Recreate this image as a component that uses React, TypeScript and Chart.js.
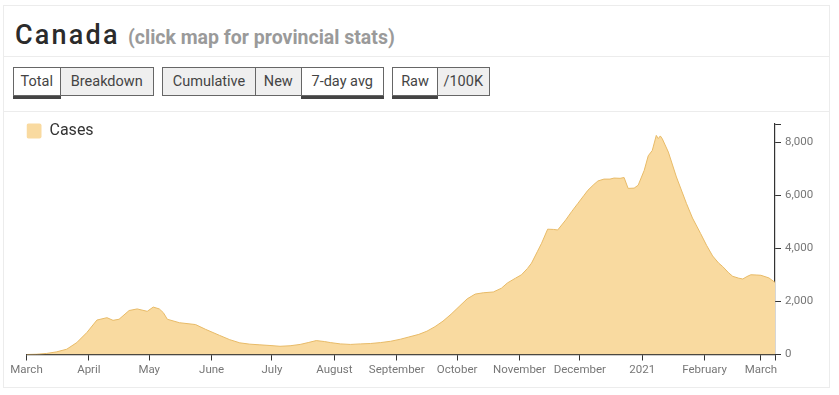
import React, { useEffect, useRef } from "react";
import { Chart, registerables } from "chart.js";

Chart.register(...registerables);

// ---- data ----
const dates = [
  "2020-03-01", "2020-03-06", "2020-03-11", "2020-03-16", "2020-03-21", "2020-03-26", "2020-03-31",
  "2020-04-05", "2020-04-10", "2020-04-13", "2020-04-16", "2020-04-21", "2020-04-25", "2020-04-30",
  "2020-05-03", "2020-05-06", "2020-05-08", "2020-05-10", "2020-05-16", "2020-05-24", "2020-05-29",
  "2020-06-05", "2020-06-10", "2020-06-15", "2020-06-20", "2020-06-25", "2020-06-30",
  "2020-07-05", "2020-07-10", "2020-07-15", "2020-07-19", "2020-07-23", "2020-07-27", "2020-07-30",
  "2020-08-04", "2020-08-09", "2020-08-14", "2020-08-19", "2020-08-24", "2020-08-29",
  "2020-09-03", "2020-09-07", "2020-09-12", "2020-09-16", "2020-09-20", "2020-09-24", "2020-09-28",
  "2020-10-02", "2020-10-06", "2020-10-10", "2020-10-14", "2020-10-19", "2020-10-23", "2020-10-26", "2020-10-30",
  "2020-11-02", "2020-11-05", "2020-11-07", "2020-11-10", "2020-11-12", "2020-11-15", "2020-11-18", "2020-11-20",
  "2020-11-24", "2020-11-27", "2020-11-30",
  "2020-12-03", "2020-12-05", "2020-12-08", "2020-12-10", "2020-12-13", "2020-12-16", "2020-12-18",
  "2020-12-21", "2020-12-23", "2020-12-25", "2020-12-28", "2020-12-30",
  "2021-01-02", "2021-01-04", "2021-01-06", "2021-01-08", "2021-01-09", "2021-01-10", "2021-01-11",
  "2021-01-14", "2021-01-18", "2021-01-23", "2021-01-26", "2021-01-30",
  "2021-02-02", "2021-02-05", "2021-02-08", "2021-02-10", "2021-02-13", "2021-02-15", "2021-02-18",
  "2021-02-20", "2021-02-22", "2021-02-24", "2021-02-27",
  "2021-03-01", "2021-03-05", "2021-03-08",
];

const cases = [
  0, 10, 40, 100, 200, 450, 830,
  1300, 1390, 1290, 1330, 1660, 1720, 1630,
  1790, 1720, 1580, 1330, 1200, 1130, 950,
  720, 560, 440, 390, 365, 340,
  310, 330, 380, 450, 525, 490, 450,
  400, 380, 400, 415, 450, 500,
  580, 660, 760, 880, 1050, 1260, 1520,
  1810, 2100, 2280, 2330, 2360, 2500, 2700, 2880,
  3010, 3250, 3450, 3900, 4200, 4730, 4720, 4700,
  5080, 5400, 5700,
  6000, 6200, 6420, 6550, 6620, 6620, 6660,
  6650, 6680, 6270, 6280, 6390,
  6950, 7500, 7700, 8270, 8150, 8250, 8140,
  7640, 6700, 5700, 5150, 4570,
  4120, 3720, 3450, 3320, 3080, 2950, 2880,
  2850, 2940, 3010, 3000,
  2990, 2890, 2720,
];

const startDate = "2020-03-01";
const endDate = "2021-03-08";

const monthTickDates = [
  "2020-03-01", "2020-04-01", "2020-05-01", "2020-06-01", "2020-07-01", "2020-08-01",
  "2020-09-01", "2020-10-01", "2020-11-01", "2020-12-01", "2021-01-01", "2021-02-01", "2021-03-01",
];
const monthTickLabels = [
  "March", "April", "May", "June", "July", "August", "September",
  "October", "November", "December", "2021", "February", "March",
];

const yTicks = [0, 2000, 4000, 6000, 8000];
const yMax = 8700;

const seriesLabel = "Cases";

// ---- helpers ----
function dayIndex(s: string): number {
  const [y, m, d] = s.split("-").map(Number);
  const [sy, sm, sd] = startDate.split("-").map(Number);
  return Math.round((Date.UTC(y, m - 1, d) - Date.UTC(sy, sm - 1, sd)) / 86400000);
}

const FONT = "Roboto, 'Noto Sans', sans-serif";

type Btn = { label: string; left: number; width: number; active: boolean };
const buttons: Btn[] = [
  { label: "Total", left: 12.5, width: 48.5, active: true },
  { label: "Breakdown", left: 60, width: 93.5, active: false },
  { label: "Cumulative", left: 162, width: 94, active: false },
  { label: "New", left: 255, width: 46.5, active: false },
  { label: "7-day avg", left: 300.5, width: 83.5, active: true },
  { label: "Raw", left: 392, width: 46, active: true },
  { label: "/100K", left: 437, width: 52.5, active: false },
];

const CW = 827;
const CH = 276;

function CasesChart() {
  const ref = useRef<HTMLCanvasElement | null>(null);
  useEffect(() => {
    if (!ref.current) return;
    const endDay = dayIndex(endDate);
    const points = dates.map((d, i) => ({ x: dayIndex(d), y: cases[i] }));
    const xTickVals = monthTickDates.map(dayIndex);
    const chart = new Chart(ref.current, {
      type: "line",
      data: {
        datasets: [
          {
            label: seriesLabel,
            data: points,
            borderColor: "#e8bb68",
            backgroundColor: "#f9daa0",
            borderWidth: 1,
            fill: "origin",
            pointRadius: 0,
            tension: 0,
          },
        ],
      },
      options: {
        animation: false,
        responsive: false,
        maintainAspectRatio: false,
        layout: { padding: { top: 12, left: 23.5, right: 0, bottom: 0 } },
        plugins: {
          tooltip: { enabled: false },
          legend: {
            position: "chartArea",
            align: "start",
            title: {
              display: true,
              text: "",
              font: { size: 1, lineHeight: 1 },
              padding: { top: 10, bottom: 0 },
            },
            labels: {
              boxWidth: 15,
              boxHeight: 15,
              padding: 0,
              color: "#333",
              font: { family: FONT, size: 16, lineHeight: 1 },
              useBorderRadius: true,
              borderRadius: 2,
              generateLabels: (c: any) =>
                Chart.defaults.plugins.legend.labels.generateLabels(c).map((l: any) => ({
                  ...l,
                  lineWidth: 0,
                  strokeStyle: "rgba(0,0,0,0)",
                })),
            },
          },
        },
        scales: {
          x: {
            type: "linear",
            min: 0,
            max: endDay,
            afterBuildTicks: (scale: any) => {
              scale.ticks = [...xTickVals, endDay].map((v) => ({ value: v }));
            },
            afterFit: (scale: any) => {
              scale.height = CH - 242.5;
            },
            ticks: {
              autoSkip: false,
              maxRotation: 0,
              minRotation: 0,
              padding: 3,
              color: "#777",
              font: { family: FONT, size: 11.5 },
              callback: (v: any) => {
                const i = xTickVals.indexOf(Number(v));
                return i >= 0 ? monthTickLabels[i] : "";
              },
            },
            grid: {
              drawOnChartArea: false,
              drawTicks: true,
              tickLength: 6,
              color: "#333",
              lineWidth: 1,
            },
            border: { display: true, color: "#333", width: 1.2 },
          },
          y: {
            type: "linear",
            position: "right",
            min: 0,
            max: yMax,
            afterBuildTicks: (scale: any) => {
              scale.ticks = [...yTicks, yMax].map((v) => ({ value: v }));
            },
            afterFit: (scale: any) => {
              scale.width = CW - 772;
            },
            ticks: {
              padding: 4,
              color: "#777",
              font: { family: FONT, size: 11.5 },
              callback: (v: any) => (yTicks.includes(Number(v)) ? Number(v).toLocaleString("en-US") : ""),
            },
            grid: {
              drawOnChartArea: false,
              drawTicks: true,
              tickLength: 6,
              color: "#333",
              lineWidth: 1,
            },
            border: { display: true, color: "#333", width: 1.2 },
          },
        },
      },
    } as any);
    return () => chart.destroy();
  }, []);
  return <canvas ref={ref} width={CW} height={CH} style={{ width: CW, height: CH, display: "block" }} />;
}

export default function App() {
  return (
    <div
      style={{
        position: "absolute",
        left: 0,
        top: 0,
        width: 839,
        height: 395,
        background: "#fff",
        fontFamily: FONT,
        overflow: "hidden",
      }}
    >
      {/* card outline */}
      <div
        style={{
          position: "absolute",
          left: 3,
          top: 5,
          width: 827,
          height: 383,
          border: "1px solid #ececec",
          boxSizing: "border-box",
        }}
      />
      <div style={{ position: "absolute", left: 3, top: 56, width: 827, height: 1, background: "#ececec" }} />
      <div style={{ position: "absolute", left: 3, top: 111, width: 827, height: 1, background: "#ececec" }} />

      {/* title */}
      <div
        style={{
          position: "absolute",
          left: 15,
          top: 22,
          fontSize: 27,
          lineHeight: 1,
          fontWeight: 500,
          letterSpacing: 2.2,
          color: "#2b2b2b",
          whiteSpace: "nowrap",
        }}
      >
        Canada
      </div>
      <div
        style={{
          position: "absolute",
          left: 128,
          top: 28,
          fontSize: 19.5,
          lineHeight: 1,
          fontWeight: 700,
          color: "#9a9a9a",
          whiteSpace: "nowrap",
        }}
      >
        (click map for provincial stats)
      </div>

      {/* buttons */}
      {buttons.map((b) => (
        <div
          key={b.label}
          style={{
            position: "absolute",
            left: b.left,
            top: 67,
            width: b.width,
            height: 29,
            boxSizing: "border-box",
            border: "1px solid #666",
            background: b.active ? "#fff" : "#efefef",
            boxShadow: b.active ? "0 3px 0 #444" : "none",
            zIndex: b.active ? 2 : 1,
            display: "flex",
            alignItems: "center",
            justifyContent: "center",
            fontSize: 14.5,
            color: "#444",
            whiteSpace: "nowrap",
          }}
        >
          {b.label}
        </div>
      ))}

      {/* chart */}
      <div style={{ position: "absolute", left: 3, top: 112, width: CW, height: CH }}>
        <CasesChart />
      </div>
    </div>
  );
}
